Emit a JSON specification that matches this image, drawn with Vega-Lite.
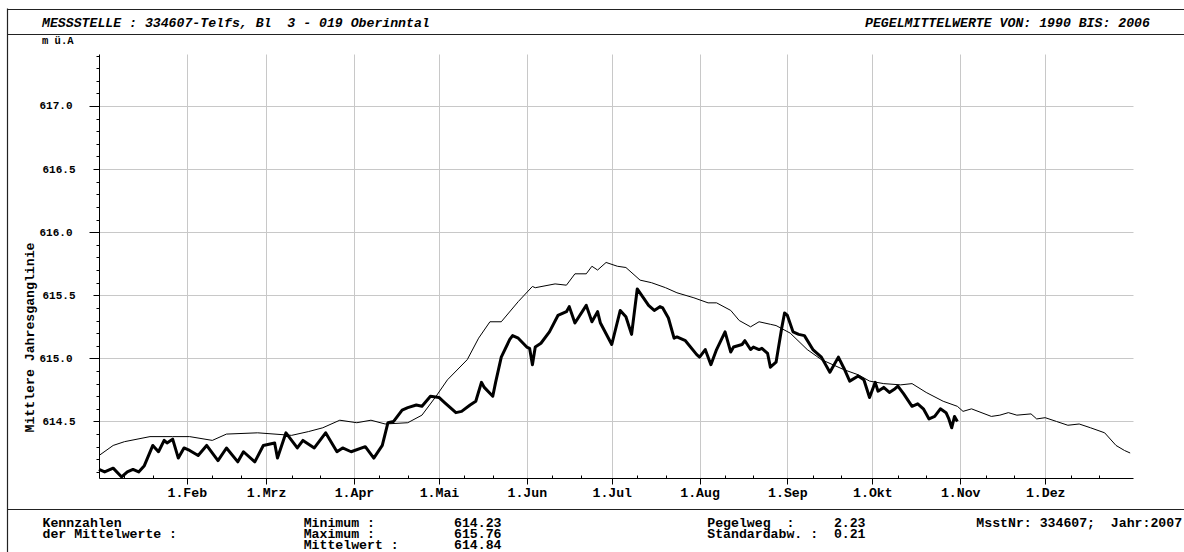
{
  "$schema": "https://vega.github.io/schema/vega-lite/v6.json",
  "width": 1034,
  "height": 424,
  "autosize": {"type": "none"},
  "padding": {"left": 99, "top": 54, "right": 51, "bottom": 74},
  "background": "white",
  "config": {"view": {"stroke": null}, "font": "Liberation Mono"},
  "title": {
    "text": "MESSSTELLE\u00a0:\u00a0334607-Telfs,\u00a0Bl\u00a0\u00a03\u00a0-\u00a0019\u00a0Oberinntal\u00a0\u00a0\u00a0\u00a0\u00a0\u00a0\u00a0\u00a0\u00a0\u00a0\u00a0\u00a0\u00a0\u00a0\u00a0\u00a0\u00a0\u00a0\u00a0\u00a0\u00a0\u00a0\u00a0\u00a0\u00a0\u00a0\u00a0\u00a0\u00a0\u00a0\u00a0\u00a0\u00a0\u00a0\u00a0\u00a0\u00a0\u00a0\u00a0\u00a0\u00a0\u00a0\u00a0\u00a0\u00a0\u00a0\u00a0\u00a0\u00a0\u00a0\u00a0\u00a0\u00a0\u00a0\u00a0PEGELMITTELWERTE\u00a0VON:\u00a01990\u00a0BIS:\u00a02006",
    "subtitle": "m\u00a0ü.A",
    "anchor": "start",
    "frame": "group",
    "dx": -57,
    "offset": -39,
    "font": "Liberation Mono",
    "fontSize": 13.2,
    "fontWeight": "bold",
    "fontStyle": "italic",
    "color": "#000",
    "subtitleFont": "Liberation Mono",
    "subtitleFontSize": 10.5,
    "subtitleFontWeight": "bold",
    "subtitleColor": "#000",
    "subtitlePadding": 6
  },
  "datasets": {
    "mittel": [
      {"datum": "2007-01-01", "wert": 614.23}, {"datum": "2007-01-06", "wert": 614.31}, {"datum": "2007-01-10", "wert": 614.34},
      {"datum": "2007-01-19", "wert": 614.38}, {"datum": "2007-01-27", "wert": 614.38}, {"datum": "2007-02-02", "wert": 614.38},
      {"datum": "2007-02-10", "wert": 614.35}, {"datum": "2007-02-15", "wert": 614.40}, {"datum": "2007-02-26", "wert": 614.41},
      {"datum": "2007-03-10", "wert": 614.39}, {"datum": "2007-03-16", "wert": 614.42}, {"datum": "2007-03-21", "wert": 614.45},
      {"datum": "2007-03-27", "wert": 614.51}, {"datum": "2007-04-02", "wert": 614.49}, {"datum": "2007-04-07", "wert": 614.51},
      {"datum": "2007-04-12", "wert": 614.48}, {"datum": "2007-04-20", "wert": 614.49}, {"datum": "2007-04-25", "wert": 614.55},
      {"datum": "2007-04-30", "wert": 614.70}, {"datum": "2007-05-04", "wert": 614.83}, {"datum": "2007-05-11", "wert": 614.99},
      {"datum": "2007-05-15", "wert": 615.16}, {"datum": "2007-05-19", "wert": 615.29}, {"datum": "2007-05-23", "wert": 615.29},
      {"datum": "2007-05-29", "wert": 615.45}, {"datum": "2007-06-03", "wert": 615.57}, {"datum": "2007-06-04", "wert": 615.56},
      {"datum": "2007-06-11", "wert": 615.59}, {"datum": "2007-06-15", "wert": 615.58}, {"datum": "2007-06-18", "wert": 615.67},
      {"datum": "2007-06-22", "wert": 615.67}, {"datum": "2007-06-24", "wert": 615.73}, {"datum": "2007-06-26", "wert": 615.70},
      {"datum": "2007-06-29", "wert": 615.76}, {"datum": "2007-07-03", "wert": 615.73}, {"datum": "2007-07-06", "wert": 615.72},
      {"datum": "2007-07-11", "wert": 615.62}, {"datum": "2007-07-15", "wert": 615.60}, {"datum": "2007-07-20", "wert": 615.56},
      {"datum": "2007-07-24", "wert": 615.52}, {"datum": "2007-07-30", "wert": 615.48}, {"datum": "2007-08-04", "wert": 615.44},
      {"datum": "2007-08-07", "wert": 615.44}, {"datum": "2007-08-12", "wert": 615.38}, {"datum": "2007-08-15", "wert": 615.30},
      {"datum": "2007-08-19", "wert": 615.25}, {"datum": "2007-08-22", "wert": 615.29}, {"datum": "2007-08-26", "wert": 615.27},
      {"datum": "2007-08-28", "wert": 615.26}, {"datum": "2007-09-02", "wert": 615.20}, {"datum": "2007-09-08", "wert": 615.07},
      {"datum": "2007-09-13", "wert": 614.99}, {"datum": "2007-09-21", "wert": 614.91}, {"datum": "2007-09-26", "wert": 614.87},
      {"datum": "2007-09-30", "wert": 614.82}, {"datum": "2007-10-05", "wert": 614.80}, {"datum": "2007-10-11", "wert": 614.79},
      {"datum": "2007-10-15", "wert": 614.80}, {"datum": "2007-10-20", "wert": 614.73}, {"datum": "2007-10-26", "wert": 614.66},
      {"datum": "2007-10-31", "wert": 614.62}, {"datum": "2007-11-02", "wert": 614.58}, {"datum": "2007-11-05", "wert": 614.60},
      {"datum": "2007-11-12", "wert": 614.54}, {"datum": "2007-11-15", "wert": 614.55}, {"datum": "2007-11-18", "wert": 614.57},
      {"datum": "2007-11-21", "wert": 614.55}, {"datum": "2007-11-26", "wert": 614.56}, {"datum": "2007-11-28", "wert": 614.52},
      {"datum": "2007-12-01", "wert": 614.53}, {"datum": "2007-12-05", "wert": 614.50}, {"datum": "2007-12-09", "wert": 614.47},
      {"datum": "2007-12-13", "wert": 614.48}, {"datum": "2007-12-17", "wert": 614.45}, {"datum": "2007-12-22", "wert": 614.41},
      {"datum": "2007-12-26", "wert": 614.31}, {"datum": "2007-12-29", "wert": 614.27}, {"datum": "2007-12-31", "wert": 614.25}
    ],
    "jahr2007": [
      {"datum": "2007-01-01", "wert": 614.12}, {"datum": "2007-01-03", "wert": 614.10}, {"datum": "2007-01-06", "wert": 614.13},
      {"datum": "2007-01-09", "wert": 614.06}, {"datum": "2007-01-11", "wert": 614.10}, {"datum": "2007-01-13", "wert": 614.12},
      {"datum": "2007-01-15", "wert": 614.10}, {"datum": "2007-01-17", "wert": 614.15}, {"datum": "2007-01-20", "wert": 614.31},
      {"datum": "2007-01-22", "wert": 614.26}, {"datum": "2007-01-24", "wert": 614.35}, {"datum": "2007-01-25", "wert": 614.33},
      {"datum": "2007-01-27", "wert": 614.36}, {"datum": "2007-01-29", "wert": 614.21}, {"datum": "2007-01-31", "wert": 614.29},
      {"datum": "2007-02-02", "wert": 614.27}, {"datum": "2007-02-05", "wert": 614.23}, {"datum": "2007-02-08", "wert": 614.31},
      {"datum": "2007-02-12", "wert": 614.19}, {"datum": "2007-02-15", "wert": 614.29}, {"datum": "2007-02-19", "wert": 614.18},
      {"datum": "2007-02-21", "wert": 614.26}, {"datum": "2007-02-25", "wert": 614.18}, {"datum": "2007-02-28", "wert": 614.31},
      {"datum": "2007-03-04", "wert": 614.33}, {"datum": "2007-03-05", "wert": 614.21}, {"datum": "2007-03-08", "wert": 614.41},
      {"datum": "2007-03-12", "wert": 614.29}, {"datum": "2007-03-14", "wert": 614.35}, {"datum": "2007-03-18", "wert": 614.29},
      {"datum": "2007-03-22", "wert": 614.41}, {"datum": "2007-03-26", "wert": 614.26}, {"datum": "2007-03-28", "wert": 614.29},
      {"datum": "2007-03-31", "wert": 614.26}, {"datum": "2007-04-05", "wert": 614.30}, {"datum": "2007-04-08", "wert": 614.21},
      {"datum": "2007-04-11", "wert": 614.31}, {"datum": "2007-04-13", "wert": 614.49}, {"datum": "2007-04-15", "wert": 614.50},
      {"datum": "2007-04-18", "wert": 614.59}, {"datum": "2007-04-20", "wert": 614.61}, {"datum": "2007-04-23", "wert": 614.63},
      {"datum": "2007-04-25", "wert": 614.62}, {"datum": "2007-04-28", "wert": 614.70}, {"datum": "2007-05-01", "wert": 614.69},
      {"datum": "2007-05-03", "wert": 614.65}, {"datum": "2007-05-07", "wert": 614.57}, {"datum": "2007-05-09", "wert": 614.58},
      {"datum": "2007-05-12", "wert": 614.63}, {"datum": "2007-05-14", "wert": 614.66}, {"datum": "2007-05-16", "wert": 614.81},
      {"datum": "2007-05-17", "wert": 614.77}, {"datum": "2007-05-20", "wert": 614.70}, {"datum": "2007-05-21", "wert": 614.81},
      {"datum": "2007-05-23", "wert": 615.01}, {"datum": "2007-05-26", "wert": 615.15}, {"datum": "2007-05-27", "wert": 615.18},
      {"datum": "2007-05-29", "wert": 615.16}, {"datum": "2007-06-01", "wert": 615.09}, {"datum": "2007-06-02", "wert": 615.08},
      {"datum": "2007-06-03", "wert": 614.95}, {"datum": "2007-06-04", "wert": 615.09}, {"datum": "2007-06-06", "wert": 615.12},
      {"datum": "2007-06-09", "wert": 615.21}, {"datum": "2007-06-12", "wert": 615.34}, {"datum": "2007-06-15", "wert": 615.37},
      {"datum": "2007-06-16", "wert": 615.41}, {"datum": "2007-06-18", "wert": 615.28}, {"datum": "2007-06-22", "wert": 615.42},
      {"datum": "2007-06-24", "wert": 615.29}, {"datum": "2007-06-26", "wert": 615.37}, {"datum": "2007-06-27", "wert": 615.28},
      {"datum": "2007-07-01", "wert": 615.11}, {"datum": "2007-07-04", "wert": 615.38}, {"datum": "2007-07-06", "wert": 615.33},
      {"datum": "2007-07-08", "wert": 615.19}, {"datum": "2007-07-10", "wert": 615.55}, {"datum": "2007-07-14", "wert": 615.42},
      {"datum": "2007-07-16", "wert": 615.38}, {"datum": "2007-07-18", "wert": 615.41}, {"datum": "2007-07-19", "wert": 615.40},
      {"datum": "2007-07-21", "wert": 615.32}, {"datum": "2007-07-23", "wert": 615.16}, {"datum": "2007-07-24", "wert": 615.17},
      {"datum": "2007-07-27", "wert": 615.14}, {"datum": "2007-07-31", "wert": 615.03}, {"datum": "2007-08-01", "wert": 615.01},
      {"datum": "2007-08-03", "wert": 615.07}, {"datum": "2007-08-05", "wert": 614.95}, {"datum": "2007-08-07", "wert": 615.07},
      {"datum": "2007-08-10", "wert": 615.21}, {"datum": "2007-08-12", "wert": 615.05}, {"datum": "2007-08-13", "wert": 615.09},
      {"datum": "2007-08-16", "wert": 615.11}, {"datum": "2007-08-17", "wert": 615.14}, {"datum": "2007-08-19", "wert": 615.07},
      {"datum": "2007-08-20", "wert": 615.09}, {"datum": "2007-08-22", "wert": 615.07}, {"datum": "2007-08-23", "wert": 615.08},
      {"datum": "2007-08-25", "wert": 615.04}, {"datum": "2007-08-26", "wert": 614.93}, {"datum": "2007-08-28", "wert": 614.97},
      {"datum": "2007-08-30", "wert": 615.24}, {"datum": "2007-08-31", "wert": 615.36}, {"datum": "2007-09-01", "wert": 615.34},
      {"datum": "2007-09-03", "wert": 615.21}, {"datum": "2007-09-05", "wert": 615.19}, {"datum": "2007-09-07", "wert": 615.18},
      {"datum": "2007-09-10", "wert": 615.07}, {"datum": "2007-09-13", "wert": 615.01}, {"datum": "2007-09-16", "wert": 614.89},
      {"datum": "2007-09-19", "wert": 615.01}, {"datum": "2007-09-21", "wert": 614.92}, {"datum": "2007-09-23", "wert": 614.82},
      {"datum": "2007-09-26", "wert": 614.86}, {"datum": "2007-09-28", "wert": 614.83}, {"datum": "2007-09-30", "wert": 614.69},
      {"datum": "2007-10-02", "wert": 614.81}, {"datum": "2007-10-03", "wert": 614.74}, {"datum": "2007-10-05", "wert": 614.77},
      {"datum": "2007-10-07", "wert": 614.73}, {"datum": "2007-10-09", "wert": 614.76}, {"datum": "2007-10-10", "wert": 614.78},
      {"datum": "2007-10-12", "wert": 614.72}, {"datum": "2007-10-15", "wert": 614.62}, {"datum": "2007-10-17", "wert": 614.64},
      {"datum": "2007-10-19", "wert": 614.60}, {"datum": "2007-10-21", "wert": 614.52}, {"datum": "2007-10-23", "wert": 614.54},
      {"datum": "2007-10-25", "wert": 614.60}, {"datum": "2007-10-27", "wert": 614.57}, {"datum": "2007-10-28", "wert": 614.52},
      {"datum": "2007-10-29", "wert": 614.45}, {"datum": "2007-10-30", "wert": 614.54}, {"datum": "2007-10-31", "wert": 614.50}
    ],
    "luecke": [{"von": "2007-11-01", "bis": "2008-01-01"}]
  },
  "layer": [
    {
      "encoding": {
        "x": {
          "field": "datum", "type": "temporal",
          "scale": {"type": "utc", "domain": [{"year": 2007, "month": 1, "date": 1, "utc": true}, {"year": 2008, "month": 1, "date": 1, "utc": true}]},
          "axis": {
            "values": [
              {"year": 2007, "month": 1, "date": 10, "utc": true}, {"year": 2007, "month": 1, "date": 20, "utc": true},
              {"year": 2007, "month": 2, "date": 1, "utc": true}, {"year": 2007, "month": 2, "date": 10, "utc": true}, {"year": 2007, "month": 2, "date": 20, "utc": true},
              {"year": 2007, "month": 3, "date": 1, "utc": true}, {"year": 2007, "month": 3, "date": 10, "utc": true}, {"year": 2007, "month": 3, "date": 20, "utc": true},
              {"year": 2007, "month": 4, "date": 1, "utc": true}, {"year": 2007, "month": 4, "date": 10, "utc": true}, {"year": 2007, "month": 4, "date": 20, "utc": true},
              {"year": 2007, "month": 5, "date": 1, "utc": true}, {"year": 2007, "month": 5, "date": 10, "utc": true}, {"year": 2007, "month": 5, "date": 20, "utc": true},
              {"year": 2007, "month": 6, "date": 1, "utc": true}, {"year": 2007, "month": 6, "date": 10, "utc": true}, {"year": 2007, "month": 6, "date": 20, "utc": true},
              {"year": 2007, "month": 7, "date": 1, "utc": true}, {"year": 2007, "month": 7, "date": 10, "utc": true}, {"year": 2007, "month": 7, "date": 20, "utc": true},
              {"year": 2007, "month": 8, "date": 1, "utc": true}, {"year": 2007, "month": 8, "date": 10, "utc": true}, {"year": 2007, "month": 8, "date": 20, "utc": true},
              {"year": 2007, "month": 9, "date": 1, "utc": true}, {"year": 2007, "month": 9, "date": 10, "utc": true}, {"year": 2007, "month": 9, "date": 20, "utc": true},
              {"year": 2007, "month": 10, "date": 1, "utc": true}, {"year": 2007, "month": 10, "date": 10, "utc": true}, {"year": 2007, "month": 10, "date": 20, "utc": true},
              {"year": 2007, "month": 11, "date": 1, "utc": true}, {"year": 2007, "month": 11, "date": 10, "utc": true}, {"year": 2007, "month": 11, "date": 20, "utc": true},
              {"year": 2007, "month": 12, "date": 1, "utc": true}, {"year": 2007, "month": 12, "date": 10, "utc": true}, {"year": 2007, "month": 12, "date": 20, "utc": true}
            ],
            "labelExpr": "utcdate(datum.value) == 1 ? '1.' + ['Jan','Feb','Mrz','Apr','Mai','Jun','Jul','Aug','Sep','Okt','Nov','Dez'][utcmonth(datum.value)] : ''",
            "tickSize": {"condition": {"test": "utcdate(datum.value) == 1", "value": 6}, "value": -3},
            "gridOpacity": {"condition": {"test": "utcdate(datum.value) == 1", "value": 1}, "value": 0},
            "grid": true, "gridColor": "#c8c8c8", "gridWidth": 1,
            "domainColor": "#000", "tickColor": "#000", "domainWidth": 1,
            "labelFont": "Liberation Mono", "labelFontWeight": "bold", "labelFontSize": 13.2, "labelColor": "#000",
            "labelBaseline": "top", "labelPadding": 2, "labelFlush": false, "labelOverlap": false, "labelBound": false,
            "title": [
              "Kennzahlen\u00a0\u00a0\u00a0\u00a0\u00a0\u00a0\u00a0\u00a0\u00a0\u00a0\u00a0\u00a0\u00a0\u00a0\u00a0\u00a0\u00a0\u00a0\u00a0\u00a0\u00a0\u00a0\u00a0Minimum\u00a0:\u00a0\u00a0\u00a0\u00a0\u00a0\u00a0\u00a0\u00a0\u00a0\u00a0614.23\u00a0\u00a0\u00a0\u00a0\u00a0\u00a0\u00a0\u00a0\u00a0\u00a0\u00a0\u00a0\u00a0\u00a0\u00a0\u00a0\u00a0\u00a0\u00a0\u00a0\u00a0\u00a0\u00a0\u00a0\u00a0\u00a0Pegelweg\u00a0\u00a0:\u00a0\u00a0\u00a0\u00a0\u00a02.23\u00a0\u00a0\u00a0\u00a0\u00a0\u00a0\u00a0\u00a0\u00a0\u00a0\u00a0\u00a0\u00a0\u00a0MsstNr:\u00a0334607;\u00a0\u00a0Jahr:2007",
              "der\u00a0Mittelwerte\u00a0:\u00a0\u00a0\u00a0\u00a0\u00a0\u00a0\u00a0\u00a0\u00a0\u00a0\u00a0\u00a0\u00a0\u00a0\u00a0\u00a0Maximum\u00a0:\u00a0\u00a0\u00a0\u00a0\u00a0\u00a0\u00a0\u00a0\u00a0\u00a0615.76\u00a0\u00a0\u00a0\u00a0\u00a0\u00a0\u00a0\u00a0\u00a0\u00a0\u00a0\u00a0\u00a0\u00a0\u00a0\u00a0\u00a0\u00a0\u00a0\u00a0\u00a0\u00a0\u00a0\u00a0\u00a0\u00a0Standardabw.\u00a0:\u00a0\u00a00.21",
              "\u200b\u00a0\u00a0\u00a0\u00a0\u00a0\u00a0\u00a0\u00a0\u00a0\u00a0\u00a0\u00a0\u00a0\u00a0\u00a0\u00a0\u00a0\u00a0\u00a0\u00a0\u00a0\u00a0\u00a0\u00a0\u00a0\u00a0\u00a0\u00a0\u00a0\u00a0\u00a0\u00a0\u00a0Mittelwert\u00a0:\u00a0\u00a0\u00a0\u00a0\u00a0\u00a0\u00a0614.84"
            ],
            "titleX": -57, "titleY": 48.5, "titleAlign": "left", "titleAnchor": "start", "titleBaseline": "alphabetic", "titleAngle": 0,
            "titleFont": "Liberation Mono", "titleFontWeight": "bold", "titleFontSize": 13.2, "titleLineHeight": 11, "titleColor": "#000"
          }
        },
        "y": {
          "field": "wert", "type": "quantitative",
          "scale": {"domain": [614.052, 617.412], "zero": false, "nice": false},
          "axis": {
            "values": [614.1, 614.2, 614.3, 614.4, 614.5, 614.6, 614.7, 614.8, 614.9, 615.0, 615.1, 615.2, 615.3, 615.4, 615.5, 615.6, 615.7, 615.8, 615.9, 616.0, 616.1, 616.2, 616.3, 616.4, 616.5, 616.6, 616.7, 616.8, 616.9, 617.0, 617.1, 617.2, 617.3, 617.4],
            "labelExpr": "abs(datum.value*2 - round(datum.value*2)) < 0.01 ? format(datum.value, '.1f') : ''",
            "tickSize": {"condition": [{"test": "abs(datum.value - round(datum.value)) < 0.01", "value": 10}, {"test": "abs(datum.value*2 - round(datum.value*2)) < 0.01", "value": 6}], "value": 3},
            "labelPadding": {"condition": {"test": "abs(datum.value - round(datum.value)) < 0.01", "value": 17}, "value": 18},
            "gridOpacity": {"condition": {"test": "abs(datum.value*2 - round(datum.value*2)) < 0.01", "value": 1}, "value": 0},
            "grid": true, "gridColor": "#c8c8c8", "gridWidth": 1,
            "domainColor": "#000", "tickColor": "#000", "domainWidth": 1,
            "labelFont": "Liberation Mono", "labelFontWeight": "bold", "labelFontSize": 11, "labelColor": "#000",
            "labelAlign": "right", "labelBaseline": "middle", "labelOverlap": false, "labelBound": false, "labelFlush": false,
            "title": "Mittlere\u00a0Jahresganglinie",
            "titleX": -70, "titleY": 283, "titleAngle": -90, "titleAlign": "center", "titleBaseline": "middle",
            "titleFont": "Liberation Mono", "titleFontWeight": "bold", "titleFontSize": 13.2, "titleColor": "#000"
          }
        }
      },
      "layer": [
        {"data": {"name": "mittel"}, "mark": {"type": "line", "color": "#000", "strokeWidth": 1}},
        {"data": {"name": "jahr2007"}, "mark": {"type": "line", "color": "#000", "strokeWidth": 3, "strokeJoin": "round"}},
        {
          "data": {"name": "luecke"},
          "mark": {"type": "rule", "color": "#c8c24e", "strokeWidth": 2},
          "encoding": {
            "x": {"field": "von", "type": "temporal"},
            "x2": {"field": "bis"},
            "y": {"datum": 614.052, "type": "quantitative"}
          }
        }
      ]
    },
    {
      "data": {"values": [{"rahmen": 0}]},
      "mark": {"type": "rule", "opacity": 0},
      "encoding": {
        "y": {
          "field": "rahmen", "type": "quantitative",
          "scale": {"domain": [0, 544], "range": [498, -46], "zero": false, "nice": false},
          "axis": {
            "orient": "left", "offset": 92,
            "values": [43, 518, 543.5],
            "tickSize": -1177, "tickColor": "#222", "tickWidth": 1.2,
            "domain": true, "domainColor": "#222", "domainWidth": 1.2,
            "labels": false, "grid": false, "title": null
          }
        }
      }
    }
  ],
  "resolve": {"scale": {"y": "independent"}, "axis": {"y": "independent"}}
}
